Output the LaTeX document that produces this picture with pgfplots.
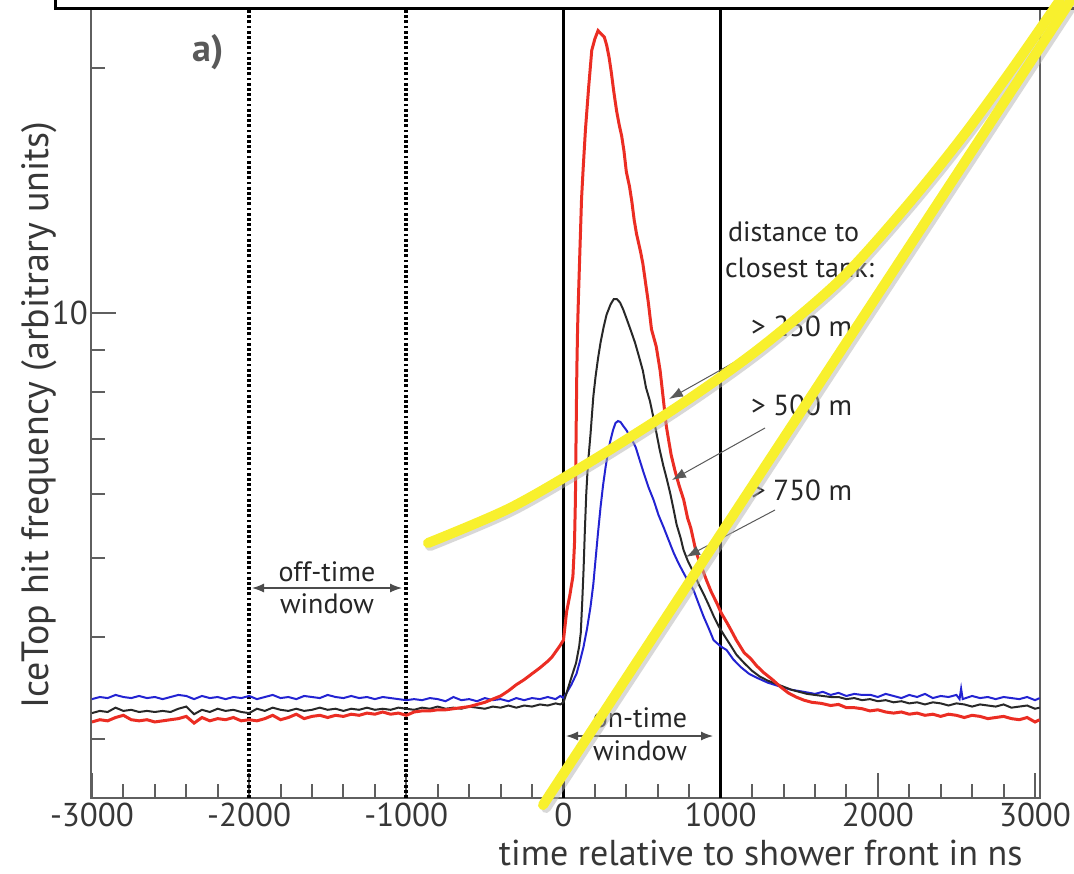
\documentclass[border=0pt]{standalone}
\usepackage{fontspec}
\setmainfont{PT Sans}
\usepackage{pgfplots}
\pgfplotsset{compat=1.18}
\usepackage{pgfplotstable}
\usetikzlibrary{arrows.meta}

\definecolor{curvered}{RGB}{235,45,35}
\definecolor{curveblue}{RGB}{35,35,210}
\definecolor{curveblack}{RGB}{40,40,40}
\definecolor{axgray}{RGB}{95,95,95}
\definecolor{txtgray}{RGB}{55,55,55}
\definecolor{hiyellow}{RGB}{248,240,45}

\pgfplotstableread{
x y
-3000 3.15
-2950 3.17
-2900 3.16
-2850 3.19
-2800 3.21
-2750 3.17
-2700 3.16
-2650 3.17
-2600 3.15
-2550 3.16
-2500 3.17
-2450 3.18
-2400 3.20
-2350 3.14
-2300 3.19
-2250 3.16
-2200 3.18
-2150 3.17
-2100 3.19
-2050 3.16
-2000 3.17
-1950 3.16
-1900 3.18
-1850 3.21
-1800 3.17
-1750 3.19
-1700 3.22
-1650 3.18
-1600 3.20
-1550 3.21
-1500 3.19
-1450 3.21
-1400 3.20
-1350 3.22
-1300 3.21
-1250 3.23
-1200 3.22
-1150 3.24
-1100 3.22
-1050 3.23
-1000 3.21
-950 3.24
-900 3.25
-850 3.25
-800 3.26
-750 3.26
-700 3.27
-650 3.28
-600 3.29
-550 3.31
-500 3.33
-450 3.36
-400 3.39
-350 3.44
-300 3.50
-250 3.55
-200 3.61
-150 3.67
-100 3.74
-75 3.78
-50 3.84
-25 3.90
0 3.97
20 4.3
40 4.5
60 4.75
70 5.2
76 5.9
80 7.0
85 8.5
90 9.6
95 10.4
105 12.0
115 13.8
125 15.0
140 16.8
160 18.9
180 21.0
200 21.7
220 22.2
240 22.0
260 21.8
275 21.3
290 20.6
305 19.7
320 18.7
338 17.7
355 17.0
370 16.5
385 15.8
400 14.9
420 14.3
435 13.7
450 13.0
465 12.5
490 11.9
505 11.5
522 10.9
540 10.3
560 9.55
590 9.1
615 8.5
635 7.85
655 7.25
685 6.7
710 6.4
735 6.15
765 5.9
790 5.6
810 5.45
845 5.08
875 4.9
910 4.70
940 4.55
975 4.41
1005 4.28
1040 4.17
1070 4.07
1100 3.97
1150 3.83
1190 3.77
1230 3.69
1275 3.62
1330 3.55
1380 3.48
1430 3.42
1480 3.38
1530 3.35
1580 3.33
1640 3.32
1700 3.30
1750 3.31
1800 3.28
1850 3.28
1900 3.27
1950 3.25
2000 3.26
2050 3.24
2100 3.23
2150 3.24
2200 3.22
2250 3.23
2300 3.21
2350 3.22
2400 3.20
2450 3.22
2500 3.21
2550 3.19
2600 3.21
2650 3.20
2700 3.18
2750 3.19
2800 3.20
2850 3.18
2900 3.17
2950 3.19
3000 3.15
3030 3.17
}\redtable

\pgfplotstableread{
x y
-3000 3.23
-2950 3.25
-2900 3.24
-2850 3.28
-2800 3.25
-2750 3.26
-2700 3.24
-2650 3.25
-2600 3.24
-2550 3.25
-2500 3.24
-2450 3.27
-2400 3.29
-2350 3.22
-2300 3.26
-2250 3.24
-2200 3.27
-2150 3.25
-2100 3.26
-2050 3.24
-2000 3.23
-1950 3.27
-1900 3.25
-1850 3.28
-1800 3.26
-1750 3.25
-1700 3.27
-1650 3.25
-1600 3.26
-1550 3.28
-1500 3.26
-1450 3.27
-1400 3.25
-1350 3.27
-1300 3.26
-1250 3.28
-1200 3.26
-1150 3.27
-1100 3.26
-1050 3.28
-1000 3.27
-950 3.26
-900 3.28
-850 3.27
-800 3.29
-750 3.27
-700 3.28
-650 3.27
-600 3.29
-550 3.28
-500 3.27
-450 3.29
-400 3.28
-350 3.30
-300 3.28
-250 3.30
-200 3.29
-150 3.31
-100 3.30
-50 3.32
-20 3.31
0 3.33
20 3.42
40 3.52
60 3.62
80 3.72
100 3.90
110 4.05
120 4.45
128 4.85
136 5.4
145 6.0
155 6.5
172 7.1
190 7.9
204 8.35
220 8.8
236 9.2
255 9.6
274 9.95
300 10.25
320 10.4
340 10.4
360 10.3
380 10.1
405 9.8
430 9.5
455 9.2
480 8.85
505 8.5
525 8.1
550 7.8
572 7.45
590 7.15
612 6.8
635 6.5
658 6.25
680 6.0
700 5.75
720 5.5
745 5.3
764 5.12
790 4.97
828 4.80
860 4.65
892 4.52
925 4.38
955 4.25
990 4.12
1020 4.03
1060 3.92
1100 3.81
1150 3.72
1200 3.64
1250 3.58
1300 3.54
1350 3.51
1400 3.48
1450 3.45
1500 3.43
1550 3.41
1600 3.40
1650 3.39
1700 3.38
1750 3.38
1800 3.36
1850 3.37
1900 3.35
1950 3.36
2000 3.34
2050 3.35
2100 3.33
2150 3.34
2200 3.32
2250 3.33
2300 3.31
2350 3.33
2400 3.32
2450 3.30
2500 3.32
2550 3.31
2600 3.29
2650 3.31
2700 3.30
2750 3.29
2800 3.31
2850 3.28
2900 3.29
2950 3.30
3000 3.27
3030 3.28
}\blacktable

\pgfplotstableread{
x y
-3000 3.36
-2950 3.38
-2900 3.37
-2850 3.40
-2800 3.38
-2750 3.37
-2700 3.39
-2650 3.37
-2600 3.38
-2550 3.36
-2500 3.38
-2450 3.40
-2400 3.39
-2350 3.36
-2300 3.39
-2250 3.37
-2200 3.38
-2150 3.36
-2100 3.38
-2050 3.37
-2000 3.39
-1950 3.36
-1900 3.38
-1850 3.40
-1800 3.37
-1750 3.38
-1700 3.36
-1650 3.39
-1600 3.38
-1550 3.37
-1500 3.40
-1450 3.38
-1400 3.37
-1350 3.39
-1300 3.37
-1250 3.38
-1200 3.36
-1150 3.38
-1100 3.37
-1050 3.36
-1000 3.35
-950 3.36
-900 3.35
-850 3.37
-800 3.36
-750 3.34
-700 3.38
-650 3.35
-600 3.36
-550 3.34
-500 3.37
-450 3.35
-400 3.36
-350 3.34
-300 3.37
-250 3.35
-200 3.37
-150 3.36
-100 3.38
-50 3.36
-20 3.39
0 3.37
20 3.42
50 3.50
83 3.61
105 3.74
127 3.89
150 4.10
172 4.36
190 4.65
204 4.98
220 5.38
236 5.78
252 6.15
268 6.47
285 6.78
299 6.98
315 7.18
331 7.33
347 7.37
363 7.35
380 7.27
401 7.18
430 7.02
459 6.85
485 6.6
510 6.37
540 6.12
573 5.90
605 5.65
637 5.46
670 5.26
701 5.08
730 4.94
764 4.80
795 4.68
828 4.57
860 4.40
892 4.24
925 4.10
955 3.97
1000 3.90
1038 3.86
1080 3.76
1127 3.68
1180 3.61
1229 3.57
1300 3.52
1382 3.48
1450 3.45
1529 3.43
1600 3.41
1650 3.43
1700 3.40
1750 3.42
1800 3.39
1850 3.41
1900 3.40
1955 3.40
2000 3.38
2050 3.41
2100 3.39
2150 3.37
2200 3.40
2250 3.38
2300 3.41
2350 3.37
2400 3.39
2450 3.38
2500 3.40
2520 3.36
2530 3.46
2540 3.36
2600 3.39
2650 3.37
2700 3.38
2750 3.36
2800 3.38
2850 3.37
2900 3.36
2950 3.38
3000 3.35
3030 3.37
}\bluetable

\begin{document}
\begin{tikzpicture}
\useasboundingbox (0,0) rectangle (537pt,-436.5pt);
\begin{axis}[
  at={(45.5pt,-399pt)}, anchor=south west,
  scale only axis, width=474.5pt, height=394.5pt,
  xmin=-3006, xmax=3032,
  ymode=log, ymin=2.541, ymax=23.6,
  xtick={-3000,-2000,-1000,0,1000,2000,3000},
  xticklabels={-3000,-2000,-1000,0,1000,2000,3000},
  minor x tick num=4,
  ytick={10}, yticklabels={10},
  minor ytick={3,4,5,6,7,8,9,20},
  tick pos=left, tick align=inside,
  major tick length=12.5pt, minor tick length=7pt,
  axis line style={axgray, line width=1.3pt},
  tick style={axgray, line width=1pt},
  ticklabel style={font=\fontsize{16.5}{19}\selectfont, text=txtgray},
  xticklabel style={yshift=1pt},
  yticklabel style={xshift=2pt},
  xlabel={time relative to shower front in ns},
  ylabel={IceTop hit frequency (arbitrary units)},
  xlabel style={font=\fontsize{18}{21}\selectfont, text=txtgray, at={(axis description cs:0.989,0)}, anchor=base east, yshift=-33.5pt},
  ylabel style={font=\fontsize{19}{22}\selectfont, text=txtgray, at={(axis description cs:-0.0453,0.485)}, anchor=base},
  clip=true,
]
\addplot[black, line width=2pt, dash pattern=on 1.4pt off 1.2pt] coordinates {(-2000,2.541) (-2000,23.6)};
\addplot[black, line width=2pt, dash pattern=on 1.4pt off 1.2pt] coordinates {(-1000,2.541) (-1000,23.6)};
\addplot[black, line width=1.3pt] coordinates {(0,2.541) (0,23.6)};
\addplot[black, line width=1.3pt] coordinates {(1000,2.541) (1000,23.6)};
\addplot[curveblue, line width=1pt] table[x=x,y=y] {\bluetable};
\addplot[curveblack, line width=1pt] table[x=x,y=y] {\blacktable};
\addplot[curvered, line width=1.5pt] table[x=x,y=y] {\redtable};
\end{axis}
\begin{scope}[x=0.5pt, y=-0.5pt]
  % top frame
  \draw[black, line width=1.5pt] (55,-3) -- (55,8.5) -- (1080,8.5);
  % panel label
  \node[font=\fontsize{19}{22}\selectfont\bfseries, text=black!65] at (208,52) {a)};
  % off-time window
  \node[font=\fontsize{14}{16}\selectfont, text=black!85] at (327,572) {off-time};
  \node[font=\fontsize{14}{16}\selectfont, text=black!85] at (327,604) {window};
  \draw[{Latex[length=6pt,width=4.5pt]}-{Latex[length=6pt,width=4.5pt]}, black!70, line width=0.6pt] (252,588) -- (402,588);
  % on-time window
  \node[font=\fontsize{14}{16}\selectfont, text=black!85] at (640,718) {on-time};
  \node[font=\fontsize{14}{16}\selectfont, text=black!85] at (640,751) {window};
  \draw[{Latex[length=6pt,width=4.5pt]}-{Latex[length=6pt,width=4.5pt]}, black!70, line width=0.6pt] (566,736) -- (713,736);
  % legend text
  \node[font=\fontsize{14}{16}\selectfont, text=black!85, anchor=west] at (721,232) {distance to};
  \node[font=\fontsize{14}{16}\selectfont, text=black!85, anchor=west] at (718,268) {closest tank:};
  \node[font=\fontsize{14.5}{16}\selectfont, text=black!85, anchor=west] at (744,326) {> 250 m};
  \node[font=\fontsize{14.5}{16}\selectfont, text=black!85, anchor=west] at (744,405) {> 500 m};
  \node[font=\fontsize{14.5}{16}\selectfont, text=black!85, anchor=west] at (744,490) {> 750 m};
  \draw[-{Latex[length=7pt,width=5pt]}, black!65, line width=0.5pt] (765,345) -- (669,399);
  \draw[-{Latex[length=7pt,width=5pt]}, black!65, line width=0.5pt] (765,428) -- (672,480);
  \draw[-{Latex[length=7pt,width=5pt]}, black!65, line width=0.5pt] (775,510) -- (686,557);
  % yellow highlight strokes
  \draw[black!30, opacity=0.5, line width=5pt, line cap=round] plot[smooth] coordinates {(430,546) (512,511) (592,465) (682,408) (762,351) (842,283) (907,211) (962,143) (1012,75) (1062,3)};
  \draw[hiyellow, line width=5pt, line cap=round] plot[smooth] coordinates {(428,543) (510,508) (590,462) (680,405) (760,348) (840,280) (905,208) (960,140) (1010,72) (1060,0)};
  \draw[black!30, opacity=0.5, line width=5pt, line cap=round] (546,808) -- (1078,-3);
  \draw[hiyellow, line width=5pt, line cap=round] (543,805) -- (1075,-6);
\end{scope}
\end{tikzpicture}
\end{document}
